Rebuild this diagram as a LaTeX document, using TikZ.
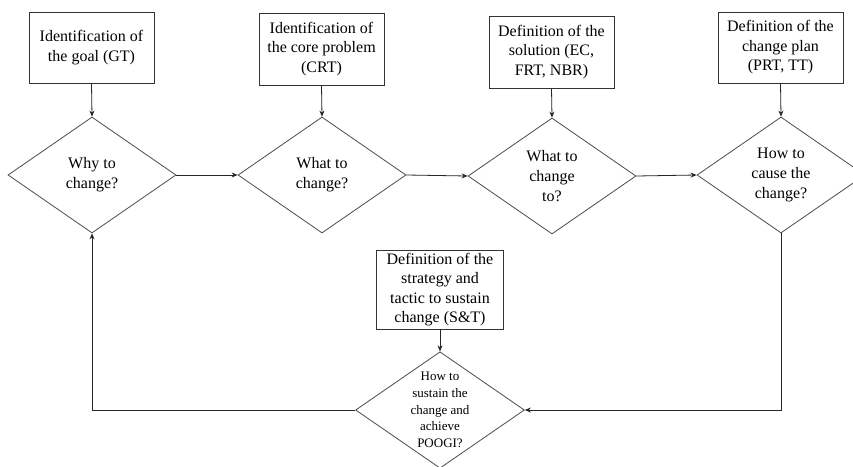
\documentclass[tikz,border=0pt]{standalone}
\usepackage{fontspec}
\setmainfont{Liberation Serif}
\usetikzlibrary{shapes.geometric,arrows.meta}
\begin{document}
\begin{tikzpicture}[x=1pt,y=-1pt,
  every node/.style={inner sep=0pt},
  tbox/.style={draw=black!80,line width=0.9pt,rectangle,align=center,
    font=\fontsize{16}{19.5}\selectfont,minimum width=125pt,minimum height=71pt},
  qdia/.style={draw=black!70,line width=0.8pt,diamond,aspect=1.45,align=center,
    font=\fontsize{16}{20}\selectfont,minimum width=168pt,minimum height=116pt},
  conn/.style={draw=black!85,line width=0.8pt},
  arr/.style={conn,-{Stealth[length=6pt,width=5pt]}}]
\useasboundingbox (0,0) rectangle (853,466);
\clip (0,0) rectangle (853,466);
\fill[white] (0,0) rectangle (853,466);

\node[tbox] (b1) at (91.5,47.5) {Identification of\\the goal (GT)};
\node[tbox,minimum height=72pt] (b2) at (321.5,49) {Identification of\\the core problem\\(CRT)};
\node[tbox,minimum height=72pt] (b3) at (551.5,52) {Definition of the\\solution (EC,\\FRT, NBR)};
\node[tbox] (b4) at (780.5,47.5) {Definition of the\\change plan\\(PRT, TT)};
\node[tbox,minimum width=127pt,minimum height=79pt] (b5) at (440,289.5) {Definition of the\\strategy and\\tactic to sustain\\change (S\&T)};

\node[qdia] (d1) at (92,175) {Why to\\change?};
\node[qdia] (d2) at (322,175) {What to\\change?};
\node[qdia] (d3) at (552,176) {What to\\change\\to?};
\node[qdia] (d4) at (781,175) {How to\\cause the\\change?};
\node[qdia,font=\fontsize{13}{16.8}\selectfont] (d5) at (440,410) {How to\\sustain the\\change and\\achieve\\POOGI?};

\draw[arr] (b1.south) -- (d1.north);
\draw[arr] (b2.south) -- (d2.north);
\draw[arr] (b3.south) -- (d3.north);
\draw[arr] (b4.south) -- (d4.north);
\draw[arr] (b5.south) -- (d5.north);

\draw[arr] (d1.east) -- (d2.west);
\draw[arr] (d2.east) -- (d3.west);
\draw[arr] (d3.east) -- (d4.west);
\draw[arr] (d4.south) |- (d5.east);
\draw[arr] (d5.west) -| (d1.south);
\end{tikzpicture}
\end{document}
